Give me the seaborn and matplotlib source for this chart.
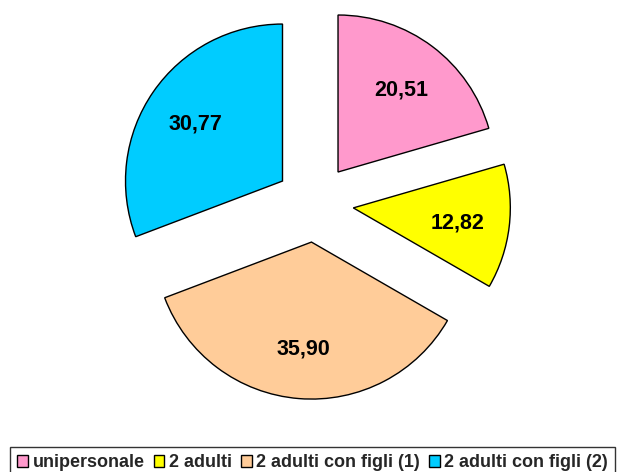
import matplotlib
matplotlib.use("Agg")
import matplotlib.pyplot as plt
import seaborn as sns

categories = ["unipersonale", "2 adulti", "2 adulti con figli (1)", "2 adulti con figli (2)"]
values = [20.51, 12.82, 35.90, 30.77]
colors = ["#FF99CC", "#FFFF00", "#FFCC99", "#00CCFF"]

sns.set_theme(style="white")
plt.rcParams["font.family"] = ["Liberation Sans", "DejaVu Sans"]

W, H = 618, 472
fig = plt.figure(figsize=(W / 100, H / 100), dpi=100)
ax = fig.add_axes([0, 0, 1, 1])

wedges, texts, autotexts = ax.pie(
    values,
    colors=colors,
    explode=[39] * len(values),
    center=(314.6, H - 203.2),
    radius=157,
    startangle=90,
    counterclock=False,
    autopct=lambda p: f"{p:.2f}".replace(".", ","),
    pctdistance=0.67,
    wedgeprops=dict(edgecolor="black", linewidth=1.0),
    textprops=dict(fontsize=15.5, fontweight="bold", color="black"),
)
for t in autotexts:
    t.set_verticalalignment("center_baseline")
ax.set_xlim(0, W)
ax.set_ylim(0, H)
ax.set_aspect("equal")
ax.axis("off")

leg = fig.legend(
    wedges,
    categories,
    loc="upper left",
    bbox_to_anchor=(10 / W, 1 - 447 / H),
    ncol=4,
    frameon=True,
    fancybox=False,
    edgecolor="black",
    prop=dict(size=13, weight="bold"),
    handlelength=0.6,
    handleheight=0.6,
    handletextpad=0.25,
    columnspacing=0.5,
    borderpad=0.4,
    borderaxespad=0,
)
leg.get_frame().set_linewidth(1.0)

fig.savefig("out.png", dpi=100)
